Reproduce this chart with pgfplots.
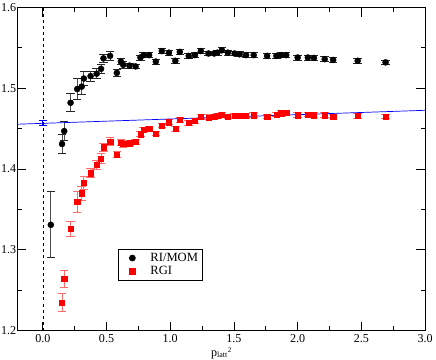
\documentclass[border=0pt]{standalone}
\usepackage{pgfplots}
\pgfplotsset{compat=1.18}
\usepackage{pgfplotstable}
\usepackage{fontspec}
\setmainfont{Liberation Serif}

\definecolor{errred}{rgb}{1,0.42,0.42}
\definecolor{errgray}{rgb}{0.3,0.3,0.3}

% RI/MOM: x, y, error
\pgfplotstableread{
x      y       e
0.063  1.331   0.041
0.151  1.431   0.012
0.168  1.447   0.012
0.218  1.482   0.011
0.270  1.499   0.013
0.305  1.502   0.010
0.322  1.512   0.009
0.375  1.515   0.006
0.423  1.518   0.006
0.457  1.524   0.006
0.476  1.537   0.005
0.528  1.540   0.005
0.581  1.519   0.004
0.613  1.533   0.004
0.631  1.529   0.004
0.680  1.528   0.003
0.728  1.527   0.003
0.766  1.538   0.003
0.792  1.541   0.003
0.834  1.541   0.003
0.887  1.533   0.003
0.934  1.546   0.003
0.990  1.544   0.003
1.040  1.534   0.003
1.075  1.545   0.003
1.145  1.540   0.003
1.194  1.541   0.003
1.240  1.546   0.003
1.300  1.543   0.003
1.345  1.543   0.003
1.370  1.544   0.003
1.405  1.547   0.003
1.452  1.544   0.003
1.505  1.543   0.003
1.545  1.542   0.003
1.595  1.541   0.003
1.655  1.541   0.003
1.760  1.540   0.003
1.833  1.540   0.003
1.870  1.541   0.003
1.910  1.541   0.003
2.000  1.538   0.003
2.080  1.538   0.003
2.128  1.5375  0.003
2.212  1.536   0.003
2.278  1.535   0.003
2.471  1.534   0.003
2.690  1.532   0.003
}\rimom

% RGI: x, y, error
\pgfplotstableread{
x      y       e
0.151  1.235   0.011
0.168  1.264   0.010
0.218  1.326   0.009
0.270  1.3595  0.013
0.305  1.370   0.009
0.322  1.383   0.008
0.375  1.395   0.006
0.423  1.405   0.006
0.457  1.413   0.006
0.476  1.427   0.005
0.528  1.434   0.005
0.581  1.418   0.004
0.613  1.433   0.004
0.631  1.431   0.004
0.680  1.432   0.003
0.728  1.434   0.003
0.766  1.443   0.003
0.792  1.449   0.003
0.834  1.450   0.003
0.887  1.444   0.003
0.934  1.454   0.003
0.990  1.458   0.003
1.040  1.450   0.003
1.075  1.461   0.003
1.145  1.457   0.003
1.194  1.460   0.003
1.240  1.465   0.003
1.300  1.464   0.003
1.345  1.465   0.003
1.370  1.466   0.003
1.405  1.4675  0.003
1.452  1.465   0.003
1.505  1.466   0.003
1.545  1.466   0.003
1.595  1.466   0.003
1.655  1.4667  0.003
1.760  1.465   0.003
1.833  1.4675  0.003
1.870  1.469   0.003
1.910  1.470   0.003
2.000  1.4667  0.003
2.080  1.4675  0.003
2.128  1.4667  0.003
2.212  1.4667  0.003
2.278  1.465   0.003
2.471  1.466   0.003
2.690  1.465   0.003
}\rgi

\begin{document}
\begin{tikzpicture}
\begin{axis}[
    scale only axis,
    width=403.7bp,
    height=320bp,
    xmin=-0.2, xmax=3.0,
    ymin=1.2, ymax=1.6,
    xtick={0,0.5,...,3.0},
    ytick={1.2,1.3,...,1.6},
    minor x tick num=1,
    minor y tick num=1,
    tick align=inside,
    major tick length=9bp,
    minor tick length=4.5bp,
    axis line style={line width=1pt},
    every tick/.style={black, line width=0.8pt},
    tick label style={font=\fontsize{12}{14}\selectfont},
    yticklabel style={inner xsep=1bp},
    xticklabel style={inner ysep=3.5bp},
    /pgf/number format/assume math mode=true,
    /pgf/number format/fixed,
    /pgf/number format/fixed zerofill,
    /pgf/number format/precision=1,
    xlabel={p\textsubscript{latt}\raisebox{4bp}{\fontsize{7}{7}\selectfont 2}},
    xlabel style={font=\fontsize{12}{14}\selectfont, inner ysep=1bp},
    legend style={at={(0.246,0.254)}, anchor=north west, draw=black,
        fill=white, line width=0.6pt, font=\fontsize{12.5}{14}\selectfont,
        inner xsep=1.5bp, inner ysep=2.2bp, row sep=-0.5bp,
        nodes={inner xsep=3bp, inner ysep=2bp}},
    legend image code/.code={%
        \path (-12.5bp,0bp) (14.6bp,0bp);
        \draw[#1] plot coordinates {(0bp,0bp)};},
    legend cell align=left,
]
\addplot[black, dashed, line width=0.6pt, forget plot] coordinates {(0,1.2) (0,1.6)};
\addplot[only marks, mark=*, mark size=3bp, black,
    error bars/.cd, y dir=both, y explicit,
    error bar style={errgray, line width=0.9pt},
    error mark options={rotate=90, mark size=4.2bp, black!85, line width=0.9pt}]
    table[x=x, y=y, y error=e] {\rimom};
\addlegendentry{RI/MOM}
\addplot[only marks, mark=square*, mark size=2.6bp, red,
    error bars/.cd, y dir=both, y explicit,
    error bar style={errred, line width=0.9pt},
    error mark options={rotate=90, mark size=4.2bp, errred, line width=0.9pt}]
    table[x=x, y=y, y error=e] {\rgi};
\addlegendentry{RGI}
\addplot[blue, line width=0.7pt, forget plot] coordinates {(-0.2,1.4555) (3.0,1.4727)};
\addplot[draw=none, mark=none, forget plot,
    error bars/.cd, y dir=both, y explicit,
    error bar style={blue, line width=0.9pt},
    error mark options={rotate=90, mark size=4.2bp, blue, line width=0.9pt}]
    coordinates {(0,1.4566) +- (0,0.003)};
\end{axis}
\end{tikzpicture}
\end{document}
